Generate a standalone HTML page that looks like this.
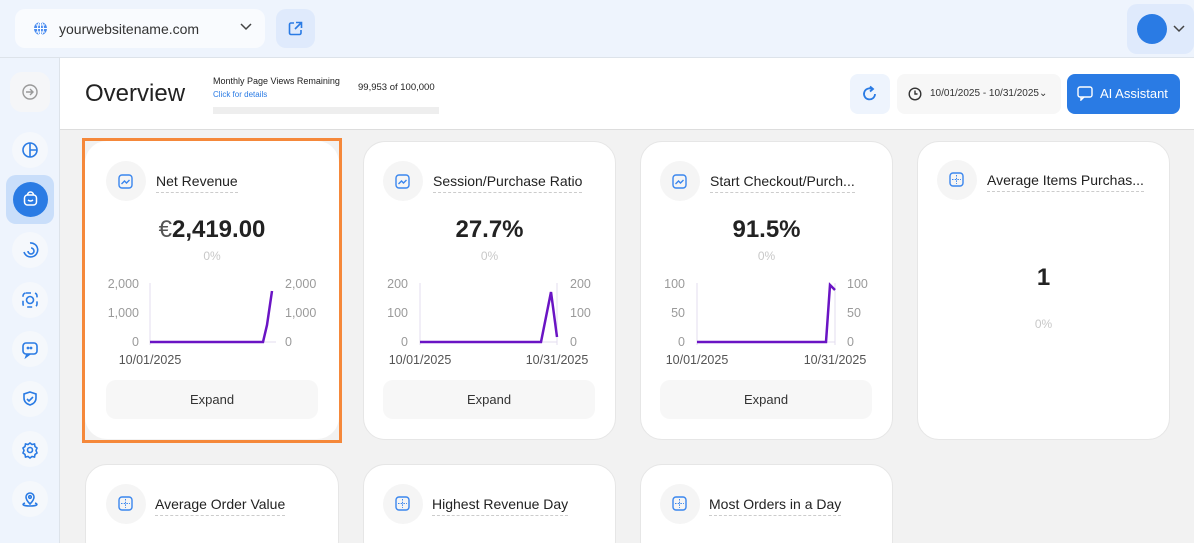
<!DOCTYPE html>
<html><head><meta charset="utf-8">
<style>
*{box-sizing:border-box;margin:0;padding:0}
html{width:1194px;height:543px;overflow:hidden}
body{width:1194px;height:543px;overflow:hidden;background:#f2f2f2;font-family:"Liberation Sans",sans-serif;position:relative;color:#222}
.a{position:absolute}
.top{left:0;top:0;width:1194px;height:58px;background:#eef4fd;border-bottom:1px solid #dde3ea}
.side{left:0;top:58px;width:60px;height:485px;background:#eef4fd;border-right:1px solid #dde3ea}
.hdr{left:60px;top:58px;width:1134px;height:72px;background:#fff;border-bottom:1px solid #ddd}
.card{background:#fff;border-radius:22px;border:1px solid #e6e6e6}
.ic{width:40px;height:40px;border-radius:50%;background:#f5f5f5}
.ttl{font-size:14px;color:#222;border-bottom:1px dashed #ccc;padding-bottom:3px;white-space:nowrap}
.big{font-size:24px;font-weight:bold;text-align:center}
.pct{font-size:12px;color:#c8c8c8;text-align:center}
.btn{background:#f7f7f7;border-radius:10px;font-size:13px;text-align:center;line-height:39px;color:#333}
.sic{width:36px;height:36px;border-radius:50%;background:#f5f8fc;left:12px}
svg text{font-family:"Liberation Sans",sans-serif;font-size:12.5px;fill:#9a9a9a}
</style></head><body>
<div class="a top"></div>
<div class="a" style="left:15px;top:9px;width:250px;height:39px;background:#f9fbfe;border-radius:10px"></div>
<svg class="a" style="left:33px;top:21px" width="15" height="15"><circle cx="7.5" cy="7.5" r="6.5" fill="#4a8cf0"/><path d="M1 7.5h13M7.5 1v13M3 4h9M3 11h9" stroke="#fff" stroke-width="1"/><ellipse cx="7.5" cy="7.5" rx="3" ry="6.5" fill="none" stroke="#fff"/></svg>
<div class="a" style="left:59px;top:21px;font-size:14px;color:#333">yourwebsitename.com</div>
<svg class="a" style="left:240px;top:23px" width="12" height="8"><path d="M1 1l5 5 5-5" stroke="#444" stroke-width="1.5" fill="none"/></svg>
<div class="a" style="left:276px;top:9px;width:39px;height:39px;background:#dfeafc;border-radius:10px"></div>
<svg class="a" style="left:288px;top:21px" width="15" height="15"><path d="M6 2H3a1.5 1.5 0 0 0-1.5 1.5v8.5A1.5 1.5 0 0 0 3 13.5h8.5A1.5 1.5 0 0 0 13 12V9M8 1.5h5.5V7M13.5 1.5L7 8" stroke="#2a7be4" stroke-width="1.6" fill="none"/></svg>
<div class="a" style="left:1127px;top:4px;width:67px;height:50px;background:#dfeafc;border-radius:10px"></div>
<div class="a" style="left:1137px;top:14px;width:30px;height:30px;border-radius:50%;background:#2a7be4"></div>
<svg class="a" style="left:1173px;top:25px" width="12" height="8"><path d="M1 1l5 5 5-5" stroke="#444" stroke-width="1.5" fill="none"/></svg>

<div class="a side"></div>
<div class="a sic" style="left:10px;top:72px;width:40px;height:40px;border-radius:12px;background:#f5f6f8"></div>
<svg class="a" style="left:22px;top:84px" width="16" height="16"><circle cx="8" cy="8" r="7" fill="none" stroke="#999" stroke-width="1.4"/><path d="M4 8h7M8 5l3 3-3 3" stroke="#999" stroke-width="1.4" fill="none"/></svg>
<div class="a" style="left:6px;top:175px;width:48px;height:49px;border-radius:10px;background:#c9defa"></div>
<div class="a" style="left:13px;top:182px;width:35px;height:35px;border-radius:50%;background:#2a7be4"></div>
<svg class="a" style="left:23px;top:191px" width="15" height="16"><rect x="1.5" y="4" width="12" height="10" rx="3" fill="none" stroke="#fff" stroke-width="1.5"/><path d="M4.5 4a3 3 0 0 1 6 0M5 9q2.5 2 5 0" stroke="#fff" stroke-width="1.5" fill="none"/></svg>
<div class="a sic" style="top:132px"></div>
<div class="a sic" style="top:232px"></div>
<div class="a sic" style="top:282px"></div>
<div class="a sic" style="top:331px"></div>
<div class="a sic" style="top:381px"></div>
<div class="a sic" style="top:431px"></div>
<div class="a sic" style="top:481px"></div>
<svg class="a" style="left:20px;top:140px" width="20" height="380" fill="none" stroke="#2a7be4" stroke-width="1.6">
<circle cx="10" cy="10" r="7"/><path d="M10 3v14M10 10h7"/>
<path d="M4 112a7 7 0 1 0 6-9M8 111a3 3 0 1 0 3-3" />
<rect x="3" y="153" width="14" height="14" rx="3" stroke-dasharray="5 4"/><circle cx="10" cy="160" r="3.5"/>
<rect x="3" y="203" width="14" height="11" rx="3"/><path d="M7 214l-1 3 4-3"/><circle cx="8" cy="208" r=".6"/><circle cx="11" cy="208" r=".6"/>
<path d="M10 252l6 2v4c0 4-3 6-6 7-3-1-6-3-6-7v-4zM7 259l2 2 4-4"/>
<circle cx="10" cy="310" r="2.5"/><path d="M10 303l2 1.5 2.5-.5.5 2.5 2 1.5-1 2.5 1 2.5-2 1.5-.5 2.5-2.5-.5-2 1.5-2-1.5-2.5.5-.5-2.5-2-1.5 1-2.5-1-2.5 2-1.5.5-2.5 2.5.5z"/>
<path d="M10 364c-3-3-4-5-4-7a4 4 0 0 1 8 0c0 2-1 4-4 7zM5 363c-3 1-3 3 5 3s8-2 5-3"/><circle cx="10" cy="357" r="1.3"/>
</svg>

<div class="a hdr"></div>
<div class="a" style="left:85px;top:80px;font-size:24px;color:#222">Overview</div>
<div class="a" style="left:213px;top:76px;font-size:9px;color:#222">Monthly Page Views Remaining</div>
<div class="a" style="left:358px;top:82px;font-size:9.5px;color:#222">99,953 of 100,000</div>
<div class="a" style="left:213px;top:90px;font-size:8px;color:#2a7be4">Click for details</div>
<div class="a" style="left:213px;top:107px;width:226px;height:7px;background:#eee"></div>
<div class="a" style="left:850px;top:74px;width:40px;height:40px;border-radius:8px;background:#eef4fd"></div>
<svg class="a" style="left:861px;top:85px" width="18" height="18"><path d="M14 9a5.5 5.5 0 1 1-3-5" stroke="#2a7be4" stroke-width="1.8" fill="none"/><path d="M9 1.5l3 2.5-3 2.5" stroke="#2a7be4" stroke-width="1.8" fill="none"/></svg>
<div class="a" style="left:897px;top:74px;width:164px;height:40px;border-radius:8px;background:#f7f7f7"></div>
<svg class="a" style="left:908px;top:87px" width="14" height="14"><circle cx="7" cy="7" r="5.8" fill="none" stroke="#333" stroke-width="1.4"/><path d="M7 3.5V7h2.5" stroke="#333" stroke-width="1.4" fill="none"/></svg>
<div class="a" style="left:930px;top:88px;font-size:10px;color:#333">10/01/2025 - 10/31/2025⌄</div>
<div class="a" style="left:1067px;top:74px;width:113px;height:40px;border-radius:8px;background:#2a7be4"></div>
<svg class="a" style="left:1077px;top:86px" width="16" height="15"><rect x="1" y="1" width="14" height="10" rx="2" fill="none" stroke="#fff" stroke-width="1.4"/><path d="M4 11v3l3-3" stroke="#fff" stroke-width="1.4" fill="none"/></svg>
<div class="a" style="left:1100px;top:86px;font-size:13px;color:#fff">AI Assistant</div>

<div class="a" style="left:82px;top:138px;width:260px;height:305px;border:3px solid #f5883a"></div>
<div class="a card" style="left:85px;top:141px;width:254px;height:298px;border:none"></div>
<div class="a card" style="left:363px;top:141px;width:253px;height:299px"></div>
<div class="a card" style="left:640px;top:141px;width:253px;height:299px"></div>
<div class="a card" style="left:917px;top:141px;width:253px;height:299px"></div>
<div class="a card" style="left:85px;top:464px;width:254px;height:100px"></div>
<div class="a card" style="left:363px;top:464px;width:253px;height:100px"></div>
<div class="a card" style="left:640px;top:464px;width:253px;height:100px"></div>

<div class="a ic" style="left:106px;top:161px"></div>
<div class="a ic" style="left:383px;top:161px"></div>
<div class="a ic" style="left:660px;top:161px"></div>
<div class="a ic" style="left:937px;top:160px"></div>
<div class="a ic" style="left:106px;top:484px"></div>
<div class="a ic" style="left:383px;top:484px"></div>
<div class="a ic" style="left:660px;top:484px"></div>
<svg class="a" style="left:0;top:0" width="1194" height="543" fill="none" stroke="#3a86ee" stroke-width="1.4">
<g id="t"><rect x="119" y="175" width="13" height="13" rx="3"/><path d="M121.5 184l3-3 2 2 3-3"/></g>
<use href="#t" x="277"/><use href="#t" x="554"/>
<g id="g"><rect x="950" y="173" width="13" height="13" rx="3"/><path d="M956.5 175v9M952 179.5h9" stroke-dasharray="1.5 1.2" stroke-width="1"/></g>
<use href="#g" x="-831" y="324"/><use href="#g" x="-554" y="324"/><use href="#g" x="-277" y="324"/>
</svg>

<div class="a ttl" style="left:156px;top:173px">Net Revenue</div>
<div class="a ttl" style="left:433px;top:173px">Session/Purchase Ratio</div>
<div class="a ttl" style="left:710px;top:173px">Start Checkout/Purch...</div>
<div class="a ttl" style="left:987px;top:172px">Average Items Purchas...</div>
<div class="a ttl" style="left:155px;top:496px">Average Order Value</div>
<div class="a ttl" style="left:432px;top:496px">Highest Revenue Day</div>
<div class="a ttl" style="left:709px;top:496px">Most Orders in a Day</div>

<div class="a big" style="left:85px;top:216px;width:254px"><span style="font-weight:normal;color:#555">€</span>2,419.00</div>
<div class="a big" style="left:363px;top:216px;width:253px">27.7%</div>
<div class="a big" style="left:640px;top:216px;width:253px">91.5%</div>
<div class="a big" style="left:917px;top:264px;width:253px">1</div>
<div class="a pct" style="left:85px;top:249px;width:254px">0%</div>
<div class="a pct" style="left:363px;top:249px;width:253px">0%</div>
<div class="a pct" style="left:640px;top:249px;width:253px">0%</div>
<div class="a pct" style="left:917px;top:317px;width:253px">0%</div>

<svg class="a" style="left:0;top:0" width="1194" height="543">
<g stroke="#e3dcef" stroke-width="1"><path d="M150 283v62M420 283v62M557 283v62M697 283v62M835 283v62"/><path d="M150 342h126M420 342h137M697 342h138"/></g>
<g fill="none" stroke="#6a14c4" stroke-width="2.5"><path d="M150 342H263L267 325L272 291"/><path d="M420 342H541L551 292L557 337"/><path d="M697 342H826L830 285L835 290"/></g>
<g text-anchor="end"><text x="139" y="288">2,000</text><text x="139" y="317">1,000</text><text x="139" y="346">0</text>
<text x="408" y="288">200</text><text x="408" y="317">100</text><text x="408" y="346">0</text>
<text x="685" y="288">100</text><text x="685" y="317">50</text><text x="685" y="346">0</text></g>
<text x="285" y="288">2,000</text><text x="285" y="317">1,000</text><text x="285" y="346">0</text>
<text x="570" y="288">200</text><text x="570" y="317">100</text><text x="570" y="346">0</text>
<text x="847" y="288">100</text><text x="847" y="317">50</text><text x="847" y="346">0</text>
<g text-anchor="middle"><text x="150" y="364" style="fill:#555">10/01/2025</text><text x="420" y="364" style="fill:#555">10/01/2025</text><text x="557" y="364" style="fill:#555">10/31/2025</text><text x="697" y="364" style="fill:#555">10/01/2025</text><text x="835" y="364" style="fill:#555">10/31/2025</text></g>
</svg>

<div class="a btn" style="left:106px;top:380px;width:212px;height:39px">Expand</div>
<div class="a btn" style="left:383px;top:380px;width:212px;height:39px">Expand</div>
<div class="a btn" style="left:660px;top:380px;width:212px;height:39px">Expand</div>
</body></html>
